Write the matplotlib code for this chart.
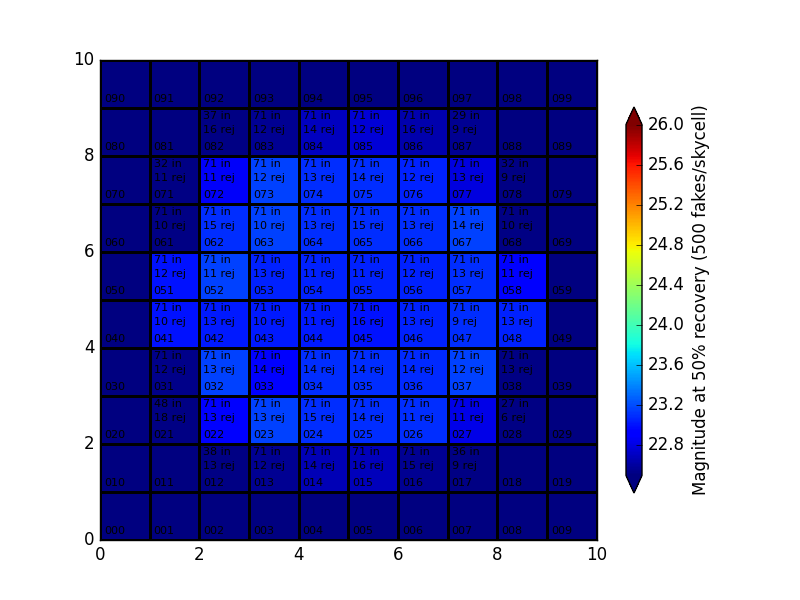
import matplotlib
matplotlib.use("Agg")
import matplotlib.pyplot as plt
import numpy as np

plt.style.use('classic')

# Grid of magnitudes at 50% recovery (rows bottom->top, columns left->right)
mag_rows = [
    [22.40, 22.40, 22.40, 22.40, 22.40, 22.40, 22.40, 22.40, 22.40, 22.40],  # row 0
    [22.40, 22.40, 22.52, 22.56, 22.67, 22.69, 22.56, 22.52, 22.40, 22.40],  # row 1
    [22.40, 22.52, 22.93, 23.16, 23.10, 23.10, 23.10, 22.82, 22.52, 22.40],  # row 2
    [22.40, 22.54, 23.16, 22.93, 23.10, 23.10, 23.08, 23.16, 22.52, 22.40],  # row 3
    [22.40, 23.00, 23.03, 23.03, 23.03, 23.00, 23.05, 23.10, 23.05, 22.40],  # row 4
    [22.40, 23.00, 23.16, 23.05, 23.05, 23.05, 23.05, 23.10, 22.93, 22.40],  # row 5
    [22.40, 22.52, 23.10, 23.16, 23.10, 23.10, 23.10, 23.16, 22.52, 22.40],  # row 6
    [22.40, 22.52, 22.88, 23.16, 23.10, 23.10, 23.05, 22.80, 22.52, 22.40],  # row 7
    [22.40, 22.40, 22.52, 22.56, 22.70, 22.76, 22.64, 22.56, 22.40, 22.40],  # row 8
    [22.40, 22.40, 22.40, 22.40, 22.40, 22.40, 22.40, 22.40, 22.40, 22.40],  # row 9
]

# Number of fakes "in" per cell (0 = no label)
n_in_rows = [
    [0, 0, 0, 0, 0, 0, 0, 0, 0, 0],
    [0, 0, 38, 71, 71, 71, 71, 36, 0, 0],
    [0, 48, 71, 71, 71, 71, 71, 71, 27, 0],
    [0, 71, 71, 71, 71, 71, 71, 71, 71, 0],
    [0, 71, 71, 71, 71, 71, 71, 71, 71, 0],
    [0, 71, 71, 71, 71, 71, 71, 71, 71, 0],
    [0, 71, 71, 71, 71, 71, 71, 71, 71, 0],
    [0, 32, 71, 71, 71, 71, 71, 71, 32, 0],
    [0, 0, 37, 71, 71, 71, 71, 29, 0, 0],
    [0, 0, 0, 0, 0, 0, 0, 0, 0, 0],
]

# Number rejected per cell
n_rej_rows = [
    [0, 0, 0, 0, 0, 0, 0, 0, 0, 0],
    [0, 0, 13, 12, 14, 16, 15, 9, 0, 0],
    [0, 18, 13, 13, 15, 14, 11, 11, 6, 0],
    [0, 12, 13, 14, 14, 14, 14, 12, 13, 0],
    [0, 10, 13, 10, 11, 16, 13, 9, 13, 0],
    [0, 12, 11, 13, 11, 11, 12, 13, 11, 0],
    [0, 10, 15, 10, 13, 15, 13, 14, 10, 0],
    [0, 11, 11, 12, 13, 14, 12, 13, 9, 0],
    [0, 0, 16, 12, 14, 12, 16, 9, 0, 0],
    [0, 0, 0, 0, 0, 0, 0, 0, 0, 0],
]

vmin, vmax = 22.5, 26.0
cbar_ticks = [22.8, 23.2, 23.6, 24.0, 24.4, 24.8, 25.2, 25.6, 26.0]

mag = np.array(mag_rows)
nrow, ncol = mag.shape

fig = plt.figure(figsize=(8, 6), dpi=100, facecolor='white')
ax = fig.add_axes([0.125, 0.1, 0.621, 0.8])
mesh = ax.pcolormesh(np.arange(ncol + 1), np.arange(nrow + 1), mag,
                     cmap='jet', vmin=vmin, vmax=vmax,
                     edgecolors='k', linewidth=2)
ax.set_xlim(0, ncol)
ax.set_ylim(0, nrow)
ax.set_xticks([0, 2, 4, 6, 8, 10])
ax.set_yticks([0, 2, 4, 6, 8, 10])

for r in range(nrow):
    for c in range(ncol):
        ax.text(c + 0.08, r + 0.19, "0%d%d" % (r, c), fontsize=8,
                va='center', ha='left', color='k')
        if n_in_rows[r][c] > 0:
            ax.text(c + 0.08, r + 0.83, "%d in" % n_in_rows[r][c], fontsize=8,
                    va='center', ha='left', color='k')
            ax.text(c + 0.08, r + 0.54, "%d rej" % n_rej_rows[r][c], fontsize=8,
                    va='center', ha='left', color='k')

cax = fig.add_axes([626 / 800, 107 / 600, 16 / 800, 386 / 600])
cb = fig.colorbar(mesh, cax=cax, extend='both', ticks=cbar_ticks)
cb.set_label('Magnitude at 50% recovery (500 fakes/skycell)')
cb.ax.set_yticklabels(["%.1f" % t for t in cbar_ticks])

fig.savefig('out.png', dpi=100, facecolor='white')
